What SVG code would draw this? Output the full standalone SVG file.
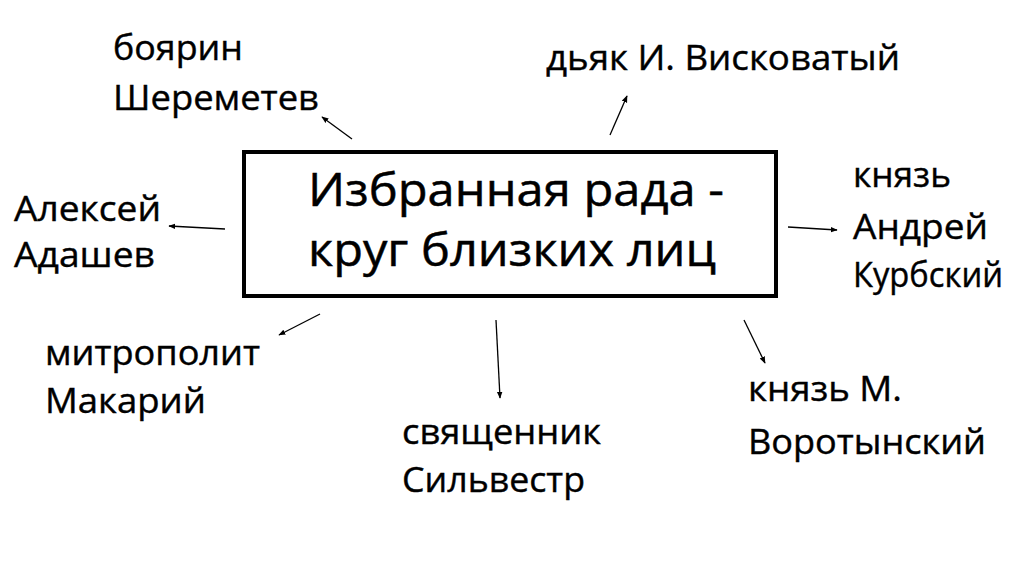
<svg xmlns="http://www.w3.org/2000/svg" width="1024" height="574" viewBox="0 0 1024 574">
<style>
.l{font-family:"Open Sans","Noto Sans","Liberation Sans",sans-serif;font-size:34px;fill:#000;stroke:#000;stroke-width:0.4}
.t{font-family:"Open Sans","Noto Sans","Liberation Sans",sans-serif;font-size:46px;fill:#000;stroke:#000;stroke-width:0.5}
.c{stroke:#000;stroke-width:1.3;fill:none;marker-end:url(#ah)}
</style>
<defs>
<marker id="ah" viewBox="0 0 10 10" refX="9" refY="5" markerWidth="7" markerHeight="7" markerUnits="userSpaceOnUse" orient="auto">
<path d="M0,1 L10,5 L0,9 z" fill="#000"/>
</marker>
</defs>
<rect width="1024" height="574" fill="#fff"/>
<g id="center">
<rect x="244" y="152" width="532" height="144" fill="#fff" stroke="#000" stroke-width="4"/>
<text class="t" x="308" y="206" textLength="416" lengthAdjust="spacingAndGlyphs">Избранная рада -</text>
<text class="t" x="308" y="266" textLength="408" lengthAdjust="spacingAndGlyphs">круг близких лиц</text>
</g>
<g id="sheremetev"><text class="l" x="113" y="60" textLength="130" lengthAdjust="spacingAndGlyphs">боярин</text><text class="l" x="113" y="110" textLength="206" lengthAdjust="spacingAndGlyphs">Шереметев</text></g>
<g id="viskovaty"><text class="l" x="546" y="70" textLength="354" lengthAdjust="spacingAndGlyphs">дьяк И. Висковатый</text></g>
<g id="kurbsky"><text class="l" x="853" y="187" textLength="98" lengthAdjust="spacingAndGlyphs">князь</text><text class="l" x="853" y="239" textLength="135" lengthAdjust="spacingAndGlyphs">Андрей</text><text class="l" x="853" y="287" textLength="150" lengthAdjust="spacingAndGlyphs">Курбский</text></g>
<g id="adashev"><text class="l" x="14" y="221" textLength="147" lengthAdjust="spacingAndGlyphs">Алексей</text><text class="l" x="14" y="267" textLength="141" lengthAdjust="spacingAndGlyphs">Адашев</text></g>
<g id="makariy"><text class="l" x="45" y="365" textLength="215" lengthAdjust="spacingAndGlyphs">митрополит</text><text class="l" x="45" y="413" textLength="161" lengthAdjust="spacingAndGlyphs">Макарий</text></g>
<g id="silvestr"><text class="l" x="402" y="444" textLength="199" lengthAdjust="spacingAndGlyphs">священник</text><text class="l" x="402" y="492" textLength="183" lengthAdjust="spacingAndGlyphs">Сильвестр</text></g>
<g id="vorotynsky"><text class="l" x="748" y="401" textLength="154" lengthAdjust="spacingAndGlyphs">князь М.</text><text class="l" x="748" y="454" textLength="238" lengthAdjust="spacingAndGlyphs">Воротынский</text></g>
<g id="connectors">
<line class="c" x1="352" y1="139" x2="322" y2="117"/>
<line class="c" x1="610" y1="135" x2="627" y2="96"/>
<line class="c" x1="225" y1="229" x2="169" y2="226"/>
<line class="c" x1="788" y1="227" x2="837" y2="230"/>
<line class="c" x1="320" y1="314" x2="279" y2="335"/>
<line class="c" x1="496" y1="320" x2="500" y2="398"/>
<line class="c" x1="744" y1="320" x2="765" y2="363"/>
</g>
</svg>
